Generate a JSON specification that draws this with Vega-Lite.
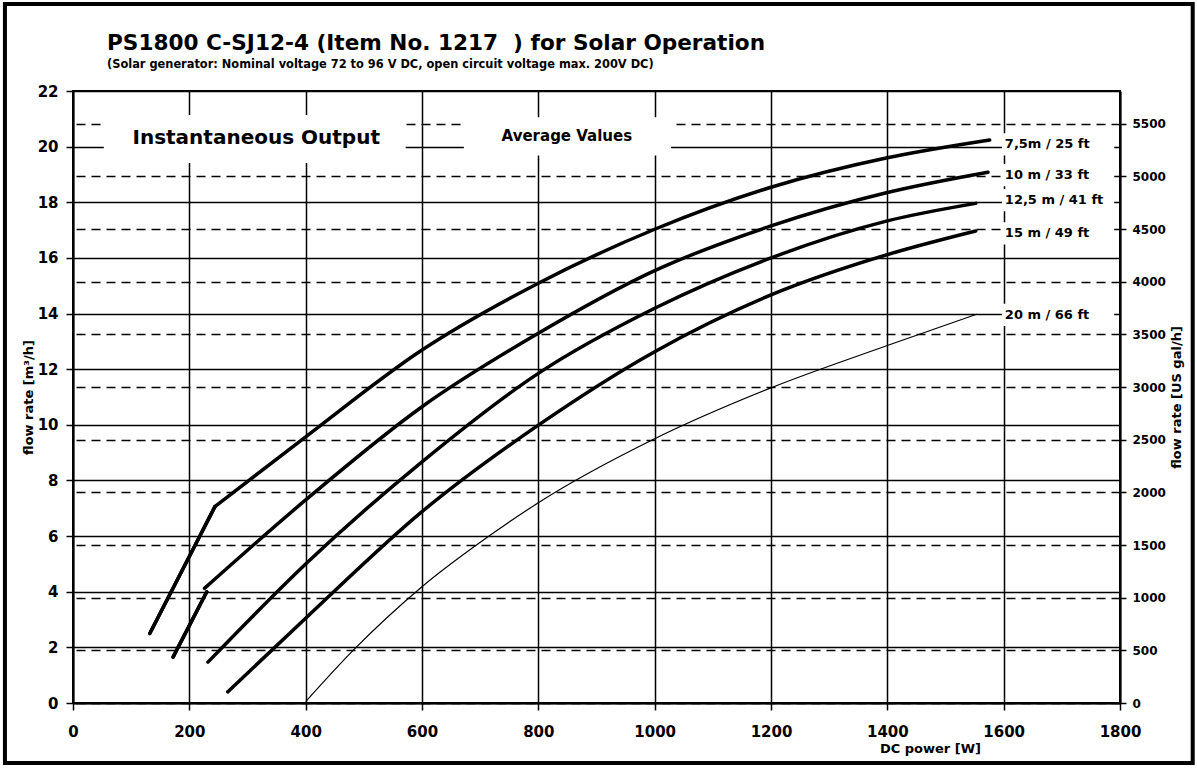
{
  "$schema": "https://vega.github.io/schema/vega-lite/v6.json",
  "width": 1047,
  "height": 612,
  "autosize": {"type": "none"},
  "padding": {"left": 73, "top": 91, "right": 77, "bottom": 69},
  "background": "white",
  "title": {
    "text": "PS1800 C-SJ12-4 (Item No. 1217 \u00a0) for Solar Operation",
    "subtitle": "(Solar generator: Nominal voltage 72 to 96 V DC, open circuit voltage max. 200V DC)",
    "anchor": "start",
    "frame": "group",
    "dx": 34,
    "offset": -68,
    "font": "DejaVu Sans",
    "fontSize": 21.6,
    "fontWeight": "bold",
    "color": "black",
    "subtitleFont": "DejaVu Sans",
    "subtitleFontSize": 11.4,
    "subtitleFontWeight": "bold",
    "subtitleColor": "black",
    "subtitlePadding": 4
  },
  "config": {
    "view": {"stroke": "black", "strokeWidth": 2},
    "font": "DejaVu Sans"
  },
  "datasets": {
    "curves": [
      {"s": "7,5m", "p": "start", "x": 132, "y": 2.5},
      {"s": "7,5m", "p": "start", "x": 244, "y": 7.06},
      {"s": "10m", "p": "start", "x": 172, "y": 1.65},
      {"s": "10m", "p": "start", "x": 230, "y": 4.0},
      {"s": "7,5m", "p": "curve", "x": 244, "y": 7.06},
      {"s": "7,5m", "p": "curve", "x": 400, "y": 9.57},
      {"s": "7,5m", "p": "curve", "x": 600, "y": 12.69},
      {"s": "7,5m", "p": "curve", "x": 800, "y": 15.09},
      {"s": "7,5m", "p": "curve", "x": 1000, "y": 17.03},
      {"s": "7,5m", "p": "curve", "x": 1200, "y": 18.54},
      {"s": "7,5m", "p": "curve", "x": 1400, "y": 19.6},
      {"s": "7,5m", "p": "curve", "x": 1576, "y": 20.24},
      {"s": "10m", "p": "curve", "x": 226, "y": 4.12},
      {"s": "10m", "p": "curve", "x": 400, "y": 7.3},
      {"s": "10m", "p": "curve", "x": 600, "y": 10.65},
      {"s": "10m", "p": "curve", "x": 800, "y": 13.29},
      {"s": "10m", "p": "curve", "x": 1000, "y": 15.54},
      {"s": "10m", "p": "curve", "x": 1200, "y": 17.15},
      {"s": "10m", "p": "curve", "x": 1400, "y": 18.35},
      {"s": "10m", "p": "curve", "x": 1573, "y": 19.08},
      {"s": "12,5m", "p": "curve", "x": 232, "y": 1.47},
      {"s": "12,5m", "p": "curve", "x": 400, "y": 5.0},
      {"s": "12,5m", "p": "curve", "x": 600, "y": 8.67},
      {"s": "12,5m", "p": "curve", "x": 800, "y": 11.85},
      {"s": "12,5m", "p": "curve", "x": 1000, "y": 14.19},
      {"s": "12,5m", "p": "curve", "x": 1200, "y": 16.0},
      {"s": "12,5m", "p": "curve", "x": 1400, "y": 17.33},
      {"s": "12,5m", "p": "curve", "x": 1552, "y": 17.96},
      {"s": "15m", "p": "curve", "x": 266, "y": 0.4},
      {"s": "15m", "p": "curve", "x": 400, "y": 3.05},
      {"s": "15m", "p": "curve", "x": 600, "y": 6.88},
      {"s": "15m", "p": "curve", "x": 800, "y": 9.99},
      {"s": "15m", "p": "curve", "x": 1000, "y": 12.63},
      {"s": "15m", "p": "curve", "x": 1200, "y": 14.67},
      {"s": "15m", "p": "curve", "x": 1400, "y": 16.12},
      {"s": "15m", "p": "curve", "x": 1552, "y": 16.97},
      {"s": "20m", "p": "curve", "x": 400, "y": 0.05},
      {"s": "20m", "p": "curve", "x": 482, "y": 1.9},
      {"s": "20m", "p": "curve", "x": 600, "y": 4.18},
      {"s": "20m", "p": "curve", "x": 722, "y": 6.1},
      {"s": "20m", "p": "curve", "x": 800, "y": 7.2},
      {"s": "20m", "p": "curve", "x": 1000, "y": 9.5},
      {"s": "20m", "p": "curve", "x": 1200, "y": 11.33},
      {"s": "20m", "p": "curve", "x": 1400, "y": 12.85},
      {"s": "20m", "p": "curve", "x": 1554, "y": 13.98}
    ],
    "headers": [
      {"label": "Instantaneous Output", "x": 315, "y": 20.31, "x1": 53, "x2": 572, "y1": 19.41, "y2": 21.14},
      {"label": "Average Values", "x": 849, "y": 20.4, "x1": 672, "x2": 1028, "y1": 19.68, "y2": 21.06}
    ],
    "curvelabels": [
      {"label": "7,5m / 25 ft", "y": 20.08, "y1": 19.68, "y2": 20.48},
      {"label": "10 m / 33 ft", "y": 18.98, "y1": 18.58, "y2": 19.38},
      {"label": "12,5 m / 41 ft", "y": 18.08, "y1": 17.68, "y2": 18.48},
      {"label": "15 m / 49 ft", "y": 16.88, "y1": 16.48, "y2": 17.28},
      {"label": "20 m / 66 ft", "y": 13.95, "y1": 13.55, "y2": 14.35}
    ],
    "gal": [{"g": 0}, {"g": 5500}]
  },
  "layer": [
    {
      "data": {"name": "gal"},
      "mark": {"type": "point", "opacity": 0},
      "encoding": {
        "y": {
          "field": "g", "type": "quantitative",
          "scale": {"domain": [0, 5811.78], "nice": false, "zero": false},
          "axis": {
            "orient": "right",
            "values": [0, 500, 1000, 1500, 2000, 2500, 3000, 3500, 4000, 4500, 5000, 5500],
            "format": "d",
            "grid": true, "gridColor": "black", "gridWidth": 1.5, "gridOpacity": 1, "gridDash": [9, 6],
            "tickSize": 6, "tickWidth": 1.5, "tickColor": "black",
            "domain": true, "domainColor": "black", "domainWidth": 2,
            "labelFont": "DejaVu Sans", "labelFontSize": 12, "labelFontWeight": "bold", "labelColor": "black",
            "labelPadding": 6, "labelOverlap": false,
            "title": "flow rate [US gal/h]", "titleFont": "DejaVu Sans", "titleFontSize": 13, "titleFontWeight": "bold",
            "titleColor": "black", "titleAngle": 270, "titleX": 56, "titleY": 306,
            "titleBaseline": "middle", "titleAlign": "center"
          }
        }
      }
    },
    {
      "data": {"name": "curves"},
      "transform": [{"filter": "datum.p === 'start'"}],
      "mark": {"type": "line", "interpolate": "linear", "color": "black", "strokeWidth": 3.5, "strokeCap": "round"},
      "encoding": {
        "x": {
          "field": "x", "type": "quantitative",
          "scale": {"domain": [0, 1800], "nice": false, "zero": false},
          "axis": {
            "orient": "bottom",
            "values": [0, 200, 400, 600, 800, 1000, 1200, 1400, 1600, 1800],
            "format": "d",
            "grid": true, "gridColor": "black", "gridWidth": 1.5, "gridOpacity": 1,
            "tickSize": 7, "tickWidth": 1.5, "tickColor": "black",
            "domain": true, "domainColor": "black", "domainWidth": 2,
            "labelFont": "DejaVu Sans", "labelFontSize": 15, "labelFontWeight": "bold", "labelColor": "black",
            "labelPadding": 14, "labelFlush": false, "labelOverlap": false,
            "title": "DC power [W]", "titleFont": "DejaVu Sans", "titleFontSize": 13, "titleFontWeight": "bold",
            "titleColor": "black", "titleX": 857, "titleY": 45, "titleBaseline": "middle", "titleAlign": "center"
          }
        },
        "y": {
          "field": "y", "type": "quantitative",
          "scale": {"domain": [0, 22], "nice": false, "zero": false},
          "axis": {
            "orient": "left",
            "values": [0, 2, 4, 6, 8, 10, 12, 14, 16, 18, 20, 22],
            "grid": true, "gridColor": "black", "gridWidth": 1.5, "gridOpacity": 1,
            "tickSize": 7, "tickWidth": 1.5, "tickColor": "black",
            "domain": true, "domainColor": "black", "domainWidth": 2,
            "labelFont": "DejaVu Sans", "labelFontSize": 15, "labelFontWeight": "bold", "labelColor": "black",
            "labelPadding": 8, "labelOverlap": false,
            "title": "flow rate [m³/h]", "titleFont": "DejaVu Sans", "titleFontSize": 13, "titleFontWeight": "bold",
            "titleColor": "black", "titleAngle": 270, "titleX": -45, "titleY": 306,
            "titleBaseline": "middle", "titleAlign": "center"
          }
        },
        "detail": {"field": "s"}
      }
    },
    {
      "data": {"name": "headers"},
      "mark": {"type": "rect", "fill": "white", "stroke": null},
      "encoding": {
        "x": {"field": "x1", "type": "quantitative", "scale": {"domain": [0, 1800], "nice": false}, "axis": null},
        "x2": {"field": "x2"},
        "y": {"field": "y1", "type": "quantitative", "scale": {"domain": [0, 22], "nice": false}, "axis": null},
        "y2": {"field": "y2"}
      }
    },
    {
      "data": {"name": "curvelabels"},
      "mark": {"type": "rect", "fill": "white", "stroke": null},
      "encoding": {
        "x": {"datum": 1597, "type": "quantitative", "scale": {"domain": [0, 1800], "nice": false}, "axis": null},
        "x2": {"datum": 1790},
        "y": {"field": "y1", "type": "quantitative", "scale": {"domain": [0, 22], "nice": false}, "axis": null},
        "y2": {"field": "y2"}
      }
    },
    {
      "data": {"name": "curves"},
      "transform": [{"filter": "datum.p === 'start'"}],
      "mark": {"type": "line", "interpolate": "linear", "color": "black", "strokeWidth": 3.5, "strokeCap": "round"},
      "encoding": {
        "x": {"field": "x", "type": "quantitative", "scale": {"domain": [0, 1800], "nice": false}, "axis": null},
        "y": {"field": "y", "type": "quantitative", "scale": {"domain": [0, 22], "nice": false}, "axis": null},
        "detail": {"field": "s"}
      }
    },
    {
      "data": {"name": "curves"},
      "transform": [{"filter": "datum.p === 'curve' && datum.s !== '20m'"}],
      "mark": {"type": "line", "interpolate": "monotone", "color": "black", "strokeWidth": 3.5, "strokeCap": "round"},
      "encoding": {
        "x": {"field": "x", "type": "quantitative", "scale": {"domain": [0, 1800], "nice": false}, "axis": null},
        "y": {"field": "y", "type": "quantitative", "scale": {"domain": [0, 22], "nice": false}, "axis": null},
        "detail": {"field": "s"}
      }
    },
    {
      "data": {"name": "curves"},
      "transform": [{"filter": "datum.s === '20m'"}],
      "mark": {"type": "line", "interpolate": "monotone", "color": "black", "strokeWidth": 1.2},
      "encoding": {
        "x": {"field": "x", "type": "quantitative", "scale": {"domain": [0, 1800], "nice": false}, "axis": null},
        "y": {"field": "y", "type": "quantitative", "scale": {"domain": [0, 22], "nice": false}, "axis": null}
      }
    },
    {
      "data": {"name": "headers"},
      "transform": [{"filter": "datum.label === 'Instantaneous Output'"}],
      "mark": {"type": "text", "font": "DejaVu Sans", "fontWeight": "bold", "fontSize": 20, "color": "black", "align": "center", "baseline": "middle"},
      "encoding": {
        "x": {"field": "x", "type": "quantitative", "scale": {"domain": [0, 1800], "nice": false}, "axis": null},
        "y": {"field": "y", "type": "quantitative", "scale": {"domain": [0, 22], "nice": false}, "axis": null},
        "text": {"field": "label"}
      }
    },
    {
      "data": {"name": "headers"},
      "transform": [{"filter": "datum.label === 'Average Values'"}],
      "mark": {"type": "text", "font": "DejaVu Sans", "fontWeight": "bold", "fontSize": 15, "color": "black", "align": "center", "baseline": "middle"},
      "encoding": {
        "x": {"field": "x", "type": "quantitative", "scale": {"domain": [0, 1800], "nice": false}, "axis": null},
        "y": {"field": "y", "type": "quantitative", "scale": {"domain": [0, 22], "nice": false}, "axis": null},
        "text": {"field": "label"}
      }
    },
    {
      "data": {"name": "curvelabels"},
      "mark": {"type": "text", "font": "DejaVu Sans", "fontWeight": "bold", "fontSize": 13, "color": "black", "align": "left", "baseline": "middle"},
      "encoding": {
        "x": {"datum": 1602, "type": "quantitative", "scale": {"domain": [0, 1800], "nice": false}, "axis": null},
        "y": {"field": "y", "type": "quantitative", "scale": {"domain": [0, 22], "nice": false}, "axis": null},
        "text": {"field": "label"}
      }
    },
    {
      "data": {"values": [{}]},
      "mark": {"type": "rect", "fillOpacity": 0, "stroke": "black", "strokeWidth": 4},
      "encoding": {
        "x": {"datum": -117, "type": "quantitative", "scale": {"domain": [0, 1800], "nice": false}, "axis": null},
        "x2": {"datum": 1925},
        "y": {"datum": -2.16, "type": "quantitative", "scale": {"domain": [0, 22], "nice": false}, "axis": null},
        "y2": {"datum": 25.13}
      }
    }
  ],
  "resolve": {"scale": {"x": "independent", "y": "independent"}}
}
